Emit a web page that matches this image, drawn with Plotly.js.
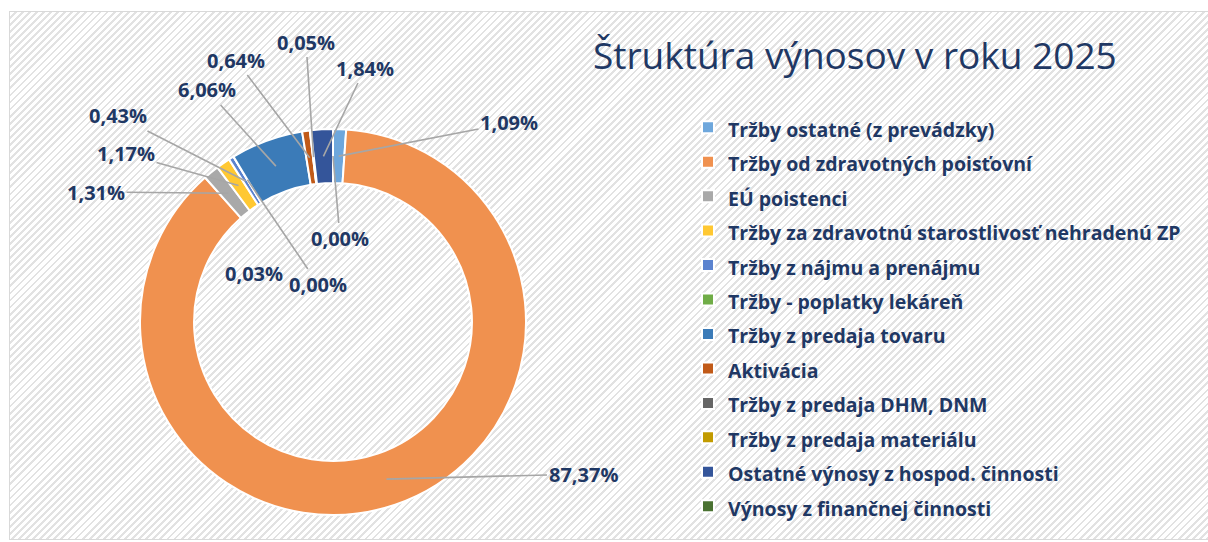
<!DOCTYPE html>
<html>
<head>
<meta charset="utf-8">
<script src="https://cdn.plot.ly/plotly-3.0.1.min.js"></script>
<style>
  html, body { margin: 0; padding: 0; background: #ffffff; }
  #frame {
    position: absolute; left: 9px; top: 11px; width: 1210px; height: 529px;
    border: 1px solid #d9d9d9; box-sizing: border-box;
    background: repeating-linear-gradient(135deg, #ffffff 0px, #ffffff 3px, #e2e2e2 3px, #e2e2e2 5px);
  }
  #chart { position: absolute; left: 0; top: 0; width: 1208px; height: 542px; }
</style>
</head>
<body>
<div id="frame"></div>
<div id="chart"></div>
<script>
// ---- data ----
const categories = [
  "Tržby ostatné (z prevádzky)",
  "Tržby od zdravotných poisťovní",
  "EÚ poistenci",
  "Tržby za zdravotnú starostlivosť nehradenú ZP",
  "Tržby z nájmu a prenájmu",
  "Tržby - poplatky lekáreň",
  "Tržby z predaja tovaru",
  "Aktivácia",
  "Tržby z predaja DHM, DNM",
  "Tržby z predaja materiálu",
  "Ostatné výnosy z hospod. činnosti",
  "Výnosy z finančnej činnosti"
];
const values = [1.09, 87.37, 1.31, 1.17, 0.43, 0.00, 6.06, 0.64, 0.03, 0.05, 1.84, 0.00];
const chartTitle = "Štruktúra výnosov v roku 2025";

// ---- style ----
const colors = ["#6ea7dc", "#f0914f", "#a9a9a9", "#ffc832", "#5b83cf", "#70ad47",
                "#3b7bb8", "#c15a18", "#666666", "#c29b00", "#34559a", "#4a7232"];
const W = 1208, H = 542;
const cx = 333, cy = 322, R = 193, holeFrac = 0.72;
// label text centres (px) – layout positions of the data labels
const labelPos = [[509,123],[583,474],[96,192],[126,154],[118,116],[318,284],
                  [207,90],[236,60],[254,273],[306,42],[365,68],[340,238]];
const labelArrow = [true,true,true,true,true,true,true,true,false,true,true,true];

const fmt = v => v.toFixed(2).replace('.', ',') + '%';
const total = values.reduce((a,b)=>a+b,0);
const rMid = R * (1 + holeFrac) / 2;
const lblFont = {family: 'Open Sans', size: 20, color: '#1f3864'};

const annotations = [];
let cum = 0;
values.forEach((v, i) => {
  const th = 2 * Math.PI * (cum + v / 2) / total;
  cum += v;
  const tipX = cx + rMid * Math.sin(th);
  const tipY = cy - rMid * Math.cos(th);
  const [tx, ty] = labelPos[i];
  if (labelArrow[i]) {
    annotations.push({
      xref: 'paper', yref: 'paper', x: tipX / W, y: 1 - tipY / H,
      ax: tx - tipX, ay: ty - tipY, showarrow: true, arrowhead: 0,
      arrowwidth: 1.6, arrowcolor: '#a6a6a6', standoff: 0,
      text: '<b>' + fmt(v) + '</b>', font: lblFont
    });
  } else {
    annotations.push({
      xref: 'paper', yref: 'paper', x: tx / W, y: 1 - ty / H,
      xanchor: 'center', yanchor: 'middle', showarrow: false,
      text: '<b>' + fmt(v) + '</b>', font: lblFont
    });
  }
});

annotations.push({
  xref: 'paper', yref: 'paper', x: 855 / W, y: 1 - 55 / H, showarrow: false,
  xanchor: 'center', yanchor: 'middle',
  text: chartTitle, font: {family: 'Open Sans', size: 37, color: '#1f3864'}
});

const trace = {
  type: 'pie',
  labels: categories.map(c => '<span style="font-size:19.5px;font-weight:bold">' + c + '</span>'),
  values: values,
  hole: holeFrac,
  sort: false,
  direction: 'clockwise',
  rotation: 0,
  textinfo: 'none',
  hoverinfo: 'label+percent',
  marker: { colors: colors, line: { color: '#ffffff', width: 2 } },
  domain: { x: [(cx - R) / W, (cx + R) / W], y: [1 - (cy + R) / H, 1 - (cy - R) / H] },
  showlegend: true
};

const layout = {
  width: W, height: H,
  margin: {l: 0, r: 0, t: 0, b: 0},
  paper_bgcolor: 'rgba(0,0,0,0)',
  plot_bgcolor: 'rgba(0,0,0,0)',
  showlegend: true,
  legend: {
    x: 688 / W, xanchor: 'left', y: 1 - 105 / H, yanchor: 'top',
    font: {family: 'Open Sans', size: 24.2, color: '#1f3864'},
    bgcolor: 'rgba(0,0,0,0)', itemwidth: 30, traceorder: 'normal'
  },
  annotations: annotations
};

Plotly.newPlot('chart', [trace], layout, {displayModeBar: false, staticPlot: true});
</script>
</body>
</html>
